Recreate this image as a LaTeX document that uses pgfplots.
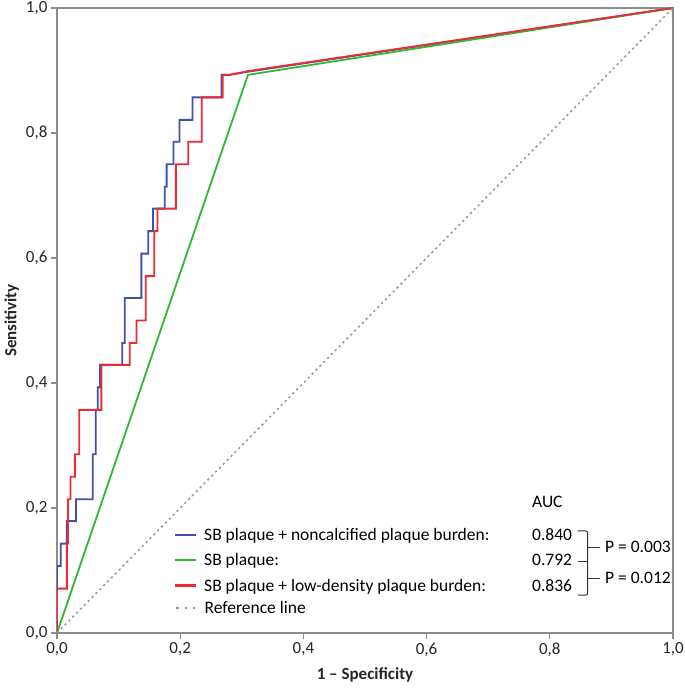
\documentclass[border=0pt]{standalone}
\usepackage{fontspec}
\setmainfont{Carlito}
\usepackage{pgfplots}
\pgfplotsset{compat=1.18}
\definecolor{rocblue}{RGB}{62,82,172}
\definecolor{rocgreen}{RGB}{48,185,48}
\definecolor{rocred}{RGB}{238,42,52}
\definecolor{axgray}{RGB}{140,140,140}
\definecolor{refgray}{RGB}{150,150,150}
\newcommand{\lgfont}{\fontsize{17.5}{21}\selectfont}
\newcommand{\lgline}[1]{\textcolor{#1}{\rule[4.5pt]{21pt}{2.2pt}}\hspace{8pt}}
\newcommand{\lgdots}{\textcolor{refgray}{\hspace{1pt}\rule[4.9pt]{2.4pt}{1.6pt}\hspace{6pt}\rule[4.9pt]{2.4pt}{1.6pt}\hspace{6pt}\rule[4.9pt]{2.4pt}{1.6pt}}\hspace{9.2pt}}
\begin{document}
\begin{tikzpicture}
\begin{axis}[name=ax, scale only axis, width=616pt, height=625pt,
  xmin=0, xmax=1, ymin=0, ymax=1,
  axis line style={axgray, line width=1.5pt},
  xtick={0,0.2,0.4,0.6,0.8,1}, ytick={0,0.2,0.4,0.6,0.8,1},
  xticklabels={{0,0},{0,2},{0,4},{0,6},{0,8},{1,0}},
  yticklabels={{0,0},{0,2},{0,4},{0,6},{0,8},{1,0}},
  tick align=outside, major tick length=6pt,
  tick style={axgray, line width=1.3pt},
  xtick pos=bottom, ytick pos=left,
  ticklabel style={font=\fontsize{17}{20}\selectfont, text=black!85},
  xlabel={1 – Specificity}, ylabel={Sensitivity},
  label style={font=\fontsize{17}{20}\selectfont\bfseries, text=black!85},
  xlabel style={yshift=-4pt},
  every node/.append style={text=black!85},
]
\addplot[rocblue, line width=1.8pt] coordinates {
(0,0)(0,0.107)(0.006,0.107)(0.006,0.143)(0.016,0.143)(0.016,0.179)(0.031,0.179)(0.031,0.214)
(0.058,0.214)(0.058,0.286)(0.063,0.286)(0.063,0.357)(0.066,0.357)(0.066,0.393)(0.070,0.393)
(0.070,0.429)(0.106,0.429)(0.106,0.464)(0.110,0.464)(0.110,0.536)(0.137,0.536)(0.137,0.607)
(0.148,0.607)(0.148,0.643)(0.156,0.643)(0.156,0.679)(0.175,0.679)(0.175,0.714)(0.178,0.714)
(0.178,0.750)(0.189,0.750)(0.189,0.786)(0.199,0.786)(0.199,0.821)(0.220,0.821)(0.220,0.857)
(0.267,0.857)(0.267,0.893)(0.280,0.893)(0.310,0.898)(1,1)};
\addplot[rocgreen, line width=1.8pt] coordinates {(0,0)(0.310,0.893)(1,1)};
\addplot[rocred, line width=1.8pt] coordinates {
(0,0)(0,0.071)(0.016,0.071)(0.016,0.143)(0.018,0.143)(0.018,0.214)(0.022,0.214)(0.022,0.250)
(0.029,0.250)(0.029,0.286)(0.036,0.286)(0.036,0.357)(0.072,0.357)(0.072,0.429)(0.118,0.429)
(0.118,0.464)(0.129,0.464)(0.129,0.500)(0.144,0.500)(0.144,0.571)(0.158,0.571)(0.158,0.643)
(0.163,0.643)(0.163,0.679)(0.193,0.679)(0.193,0.750)(0.213,0.750)(0.213,0.786)(0.235,0.786)
(0.235,0.857)(0.269,0.857)(0.269,0.893)(0.280,0.893)(0.310,0.899)(1,1)};
\addplot[refgray, line width=1.5pt, dash pattern=on 2.2pt off 3.3pt] coordinates {(0,0)(1,1)};
% legend (drawn as text with coloured rules)
\node[anchor=base west, font=\lgfont, inner sep=0pt] at (axis cs:0.1916,0.1478) {\lgline{rocblue}SB plaque + noncalcified plaque burden:};
\node[anchor=base west, font=\lgfont, inner sep=0pt] at (axis cs:0.1916,0.1078) {\lgline{rocgreen}SB plaque:};
\node[anchor=base west, font=\lgfont, inner sep=0pt] at (axis cs:0.1916,0.0670) {\lgline{rocred}SB plaque + low-density plaque burden:};
\node[anchor=base west, font=\lgfont, inner sep=0pt] at (axis cs:0.1916,0.0310) {\lgdots Reference line};
% AUC annotations
\node[anchor=base west, font=\lgfont, inner sep=0pt] at (axis cs:0.771,0.2006) {AUC};
\node[anchor=base west, font=\lgfont, inner sep=0pt] at (axis cs:0.771,0.1478) {0.840};
\node[anchor=base west, font=\lgfont, inner sep=0pt] at (axis cs:0.771,0.1078) {0.792};
\node[anchor=base west, font=\lgfont, inner sep=0pt] at (axis cs:0.771,0.0670) {0.836};
\draw[black!80, line width=1pt, rounded corners=2pt] (axis cs:0.8458,0.1632) -- (axis cs:0.8615,0.1632) -- (axis cs:0.8615,0.0606) -- (axis cs:0.8458,0.0606);
\draw[black!80, line width=1pt] (axis cs:0.8458,0.1150) -- (axis cs:0.8615,0.1150);
\draw[black!80, line width=1pt] (axis cs:0.8615,0.1367) -- (axis cs:0.8815,0.1367);
\draw[black!80, line width=1pt] (axis cs:0.8615,0.0872) -- (axis cs:0.8815,0.0872);
\node[anchor=base west, font=\lgfont, inner sep=0pt] at (axis cs:0.8896,0.1282) {P = 0.003};
\node[anchor=base west, font=\lgfont, inner sep=0pt] at (axis cs:0.8896,0.0786) {P = 0.012};
\end{axis}
\pgfresetboundingbox
\path ([xshift=-57pt,yshift=-55pt]ax.south west) rectangle ([xshift=12pt,yshift=8pt]ax.north east);
\end{tikzpicture}
\end{document}
